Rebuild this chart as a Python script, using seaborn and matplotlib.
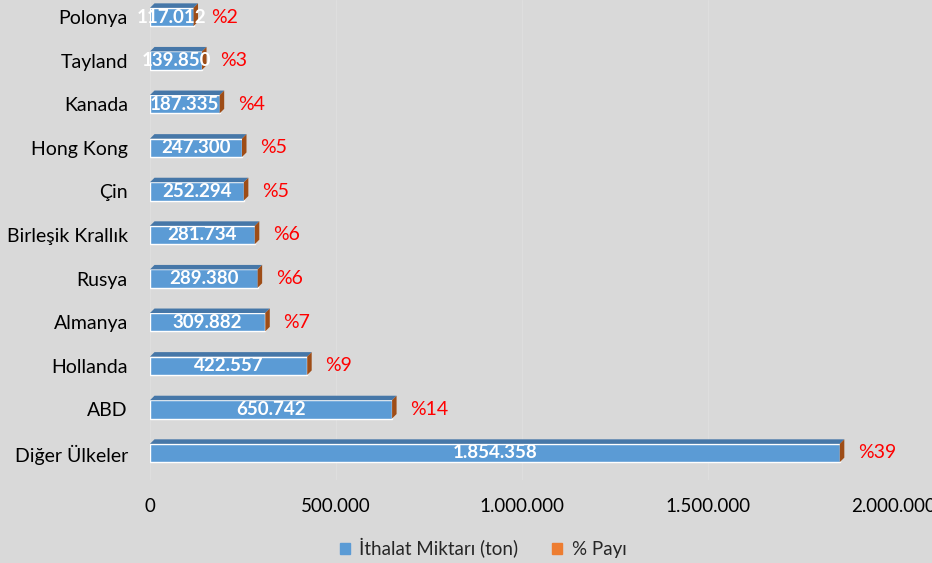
import numpy as np
import pandas as pd
import matplotlib
matplotlib.use('Agg')
import matplotlib.pyplot as plt
from matplotlib.patches import Polygon, Patch
import seaborn as sns

countries = ['Polonya', 'Tayland', 'Kanada', 'Hong Kong', 'Çin', 'Birleşik Krallık',
             'Rusya', 'Almanya', 'Hollanda', 'ABD', 'Diğer Ülkeler']
amounts = [117012, 139850, 187335, 247300, 252294, 281734, 289380, 309882, 422557, 650742, 1854358]
shares = [2, 3, 4, 5, 5, 6, 6, 7, 9, 14, 39]
x_ticks = [0, 500000, 1000000, 1500000, 2000000]

bg = '#d9d9d9'
sns.set_style('white', {'axes.facecolor': bg, 'figure.facecolor': bg})
plt.rcParams['font.family'] = ['Lato', 'DejaVu Sans']

df = pd.DataFrame({'country': countries, 'amount': amounts, 'share': shares})

fig = plt.figure(figsize=(9.32, 5.63), dpi=100)
ax = fig.add_axes([150 / 932, 83 / 563, 744 / 932, 480 / 563])
sns.barplot(data=df, y='country', x='amount', orient='h', color='#5b9bd5',
            saturation=1, width=0.42, ax=ax, zorder=3)

ax.set_xlim(0, 2000000)
ax.set_ylim(10.62, -0.39)
ax.set_xticks(x_ticks)
ax.set_xticklabels([f'{t:,}'.replace(',', '.') for t in x_ticks])
ax.tick_params(axis='x', length=0, pad=13, labelsize=13.5, labelcolor='black')
ax.tick_params(axis='y', length=0, pad=16, labelsize=14, labelcolor='black')
ax.set_xlabel('')
ax.set_ylabel('')
ax.grid(axis='x', color='#dedede', lw=0.8, zorder=0)
for s in ax.spines.values():
    s.set_visible(False)

# 3D look: top face (darker blue) and right side face (brown, the % series)
d = 4.5
inv = ax.transData.inverted()
for p in ax.patches:
    x0, y0 = p.get_x(), p.get_y()
    x1, y1 = x0 + p.get_width(), y0 + p.get_height()
    (px0, ptop), (px1, pbot) = ax.transData.transform([(x0, y0), (x1, y1)])
    top = inv.transform([(px0, ptop), (px1, ptop), (px1 + d, ptop + d), (px0 + d, ptop + d)])
    side = inv.transform([(px1, ptop), (px1 + d, ptop + d), (px1 + d, pbot + d), (px1, pbot)])
    ax.add_patch(Polygon(top, closed=True, color='#4677a8', zorder=3, clip_on=False, lw=0))
    ax.add_patch(Polygon(side, closed=True, color='#9e4d17', zorder=3, clip_on=False, lw=0))

cont = ax.containers[0]
ax.bar_label(cont, labels=[f'{v:,}'.replace(',', '.') for v in amounts], label_type='center',
             color='white', fontweight='bold', fontsize=13.5, zorder=5)
ax.bar_label(cont, labels=[f'%{s}' for s in shares], padding=13, color='#ff0000', fontsize=14)

handles = [Patch(color='#5b9bd5', label='İthalat Miktarı (ton)'),
           Patch(color='#ed7d31', label='% Payı')]
fig.legend(handles=handles, loc='center', bbox_to_anchor=(483 / 932, 1 - 548 / 563), ncol=2,
           frameon=False, fontsize=13.5, handlelength=0.55, handleheight=0.55, handletextpad=0.5,
           columnspacing=1.8)

fig.savefig('out.png', dpi=100, facecolor=bg)
